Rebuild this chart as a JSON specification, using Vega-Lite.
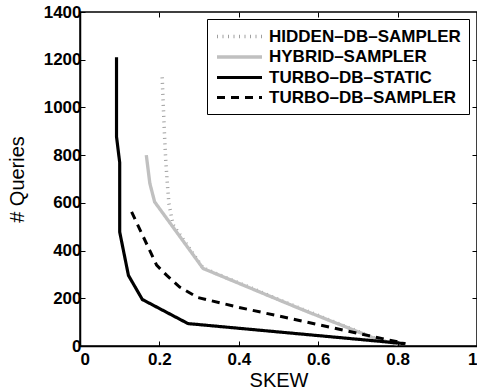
{
  "$schema": "https://vega.github.io/schema/vega-lite/v6.json",
  "autosize": {"type": "none"},
  "padding": {"left": 80, "top": 12, "right": 0, "bottom": 45},
  "width": 397,
  "height": 334,
  "background": "white",
  "config": {
    "font": "Liberation Sans",
    "view": {"stroke": "black", "strokeWidth": 1.5},
    "axis": {
      "domainColor": "black", "domainWidth": 1.5,
      "tickColor": "black", "tickSize": -5, "tickWidth": 1,
      "grid": false,
      "labelFont": "Liberation Sans", "labelFontWeight": "bold", "labelFontSize": 17, "labelColor": "black",
      "titleFont": "Liberation Sans", "titleFontWeight": "normal", "titleFontSize": 20, "titleColor": "black"
    }
  },
  "data": {"values": [
    {"series": "HIDDEN–DB–SAMPLER", "o": 1, "skew": 0.207, "q": 1126},
    {"series": "HIDDEN–DB–SAMPLER", "o": 2, "skew": 0.210, "q": 1000},
    {"series": "HIDDEN–DB–SAMPLER", "o": 3, "skew": 0.213, "q": 880},
    {"series": "HIDDEN–DB–SAMPLER", "o": 4, "skew": 0.216, "q": 778},
    {"series": "HIDDEN–DB–SAMPLER", "o": 5, "skew": 0.220, "q": 680},
    {"series": "HIDDEN–DB–SAMPLER", "o": 6, "skew": 0.224, "q": 597},
    {"series": "HIDDEN–DB–SAMPLER", "o": 7, "skew": 0.234, "q": 510},
    {"series": "HIDDEN–DB–SAMPLER", "o": 8, "skew": 0.310, "q": 327},
    {"series": "HIDDEN–DB–SAMPLER", "o": 9, "skew": 0.553, "q": 159},
    {"series": "HIDDEN–DB–SAMPLER", "o": 10, "skew": 0.754, "q": 26},
    {"series": "HIDDEN–DB–SAMPLER", "o": 11, "skew": 0.800, "q": 9},
    {"series": "HYBRID–SAMPLER", "o": 1, "skew": 0.167, "q": 800},
    {"series": "HYBRID–SAMPLER", "o": 2, "skew": 0.176, "q": 681},
    {"series": "HYBRID–SAMPLER", "o": 3, "skew": 0.188, "q": 604},
    {"series": "HYBRID–SAMPLER", "o": 4, "skew": 0.234, "q": 499},
    {"series": "HYBRID–SAMPLER", "o": 5, "skew": 0.310, "q": 325},
    {"series": "HYBRID–SAMPLER", "o": 6, "skew": 0.553, "q": 157},
    {"series": "HYBRID–SAMPLER", "o": 7, "skew": 0.754, "q": 24},
    {"series": "HYBRID–SAMPLER", "o": 8, "skew": 0.800, "q": 8},
    {"series": "TURBO–DB–STATIC", "o": 1, "skew": 0.092, "q": 1210},
    {"series": "TURBO–DB–STATIC", "o": 2, "skew": 0.092, "q": 877},
    {"series": "TURBO–DB–STATIC", "o": 3, "skew": 0.100, "q": 769},
    {"series": "TURBO–DB–STATIC", "o": 4, "skew": 0.100, "q": 478},
    {"series": "TURBO–DB–STATIC", "o": 5, "skew": 0.122, "q": 296},
    {"series": "TURBO–DB–STATIC", "o": 6, "skew": 0.157, "q": 195},
    {"series": "TURBO–DB–STATIC", "o": 7, "skew": 0.272, "q": 94},
    {"series": "TURBO–DB–STATIC", "o": 8, "skew": 0.818, "q": 10},
    {"series": "TURBO–DB–SAMPLER", "o": 1, "skew": 0.130, "q": 562},
    {"series": "TURBO–DB–SAMPLER", "o": 2, "skew": 0.193, "q": 339},
    {"series": "TURBO–DB–SAMPLER", "o": 3, "skew": 0.218, "q": 297},
    {"series": "TURBO–DB–SAMPLER", "o": 4, "skew": 0.251, "q": 247},
    {"series": "TURBO–DB–SAMPLER", "o": 5, "skew": 0.297, "q": 203},
    {"series": "TURBO–DB–SAMPLER", "o": 6, "skew": 0.400, "q": 162},
    {"series": "TURBO–DB–SAMPLER", "o": 7, "skew": 0.820, "q": 10}
  ]},
  "layer": [
    {
      "mark": {"type": "line", "opacity": 0},
      "encoding": {
        "x": {"field": "skew", "type": "quantitative", "scale": {"domain": [0, 1]},
              "axis": {"orient": "top", "labels": false, "title": null, "domain": false, "values": [0.2, 0.4, 0.6, 0.8]}},
        "y": {"field": "q", "type": "quantitative", "scale": {"domain": [0, 1400]},
              "axis": {"orient": "right", "labels": false, "title": null, "domain": false, "values": [200, 400, 600, 800, 1000, 1200]}},
        "detail": {"field": "series"},
        "order": {"field": "o"}
      }
    },
    {
      "mark": {"type": "line"},
      "encoding": {
        "x": {"field": "skew", "type": "quantitative", "scale": {"domain": [0, 1]},
              "axis": {"title": "SKEW", "values": [0, 0.2, 0.4, 0.6, 0.8, 1], "format": "~g", "labelPadding": 10, "labelFontWeight": "bold", "titlePadding": 3}},
        "y": {"field": "q", "type": "quantitative", "scale": {"domain": [0, 1400]},
              "axis": {"title": "# Queries", "values": [0, 200, 400, 600, 800, 1000, 1200, 1400], "format": "d", "labelPadding": 4, "labelFontWeight": "bold", "titlePadding": 16}},
        "order": {"field": "o"},
        "color": {"field": "series", "type": "nominal",
          "scale": {"domain": ["HIDDEN–DB–SAMPLER", "HYBRID–SAMPLER", "TURBO–DB–STATIC", "TURBO–DB–SAMPLER"],
                    "range": ["#a0a0a0", "#c0c0c0", "#000000", "#000000"]},
          "legend": {"title": null, "orient": "none", "legendX": 127, "legendY": 7,
                     "strokeColor": "black", "fillColor": "white", "padding": 8,
                     "symbolType": "M-1,0H5", "symbolSize": 225, "labelFontSize": 17, "labelFontWeight": "bold",
                     "labelFont": "Liberation Sans", "labelColor": "black", "rowPadding": 2.5, "labelOffset": 35, "labelLimit": 400}},
        "strokeDash": {"field": "series", "type": "nominal",
          "scale": {"domain": ["HIDDEN–DB–SAMPLER", "HYBRID–SAMPLER", "TURBO–DB–STATIC", "TURBO–DB–SAMPLER"],
                    "range": [[1, 4.5], [1, 0], [1, 0], [8, 6]]}},
        "strokeWidth": {"field": "series", "type": "nominal",
          "scale": {"domain": ["HIDDEN–DB–SAMPLER", "HYBRID–SAMPLER", "TURBO–DB–STATIC", "TURBO–DB–SAMPLER"],
                    "range": [3.5, 3, 2.5, 2.5]}}
      }
    }
  ],
  "resolve": {"axis": {"x": "independent", "y": "independent"}}
}
